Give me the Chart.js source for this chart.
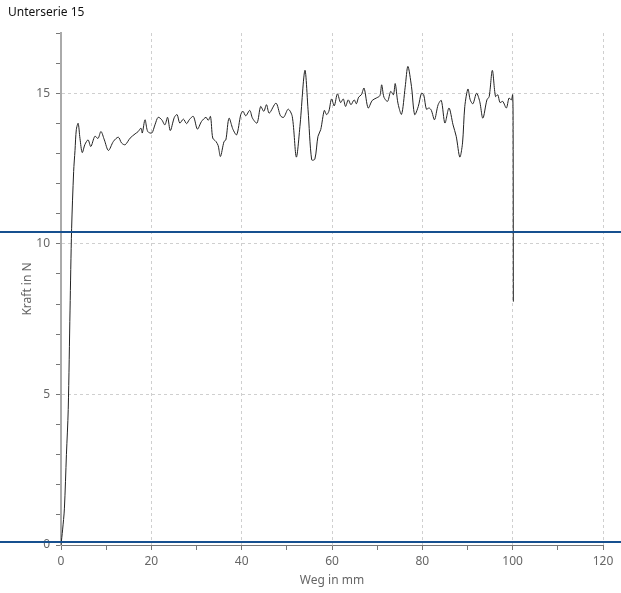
<!DOCTYPE html>
<html>
<head>
<meta charset="utf-8">
<script src="https://cdn.jsdelivr.net/npm/chart.js@4.4.1/dist/chart.umd.min.js"></script>
<style>
    body { margin: 0; background: #fff; }
    #wrap { width: 621px; height: 593px; }
</style>
</head>
<body>
<div id="wrap"><canvas id="kraftWegChart" width="621" height="593"></canvas></div>
<script>
const titel = "Unterserie 15";
const xTitel = "Weg in mm";
const yTitel = "Kraft in N";

// Weg (mm) und Kraft (N)
const weg = [
    0, 0.35, 0.75, 1.2, 1.6, 2.0, 2.35, 2.8, 3.1, 3.4, 3.8, 4.2, 4.7, 5.3, 6.0, 6.6, 7.5, 8.2, 8.85, 9.6, 10.5, 11.6,
    12.7, 13.4, 14.2, 15.3, 16.4, 17.1, 17.7, 18.0, 18.6, 19.2, 20.1, 20.8, 21.5, 22.3, 23.0, 23.6, 24.2, 25.1, 25.7, 26.3,
    27.1, 27.8, 28.4, 29.3, 30.2, 31.1, 32.1, 32.6, 33.1, 33.6, 34.3, 34.8, 35.3, 36.1, 36.5, 37.2, 38.1, 38.9, 39.8, 40.3,
    40.9, 41.8, 42.4, 43.4, 44.2, 44.9, 45.5, 46.1, 47.6, 48.6, 49.3, 50.3, 51.2, 52.1, 52.9, 54.0, 54.7, 55.5, 56.2, 56.9,
    57.5, 58.3, 58.8, 59.3, 59.9, 60.5, 61.2, 61.9, 62.5, 63.0, 63.6, 64.2, 64.9, 65.4, 65.9, 66.5, 67.1, 68.0, 68.9, 69.8,
    70.6, 71.0, 71.5, 72.3, 73.0, 73.6, 74.0, 74.6, 75.4, 76.2, 76.8, 77.6, 78.3, 79.1, 79.8, 80.3, 80.9, 81.5, 82.0, 82.7,
    83.5, 84.2, 85.0, 85.9, 86.8, 87.5, 88.3, 88.9, 89.4, 90.1, 90.6, 91.2, 92.0, 92.7, 93.4, 94.3, 94.8, 95.5, 96.2, 96.7,
    97.2, 97.8, 98.6, 99.2, 99.7, 100.0, 100.1, 100.15
];
const kraft = [
    0, 0.5, 1.2, 3.0, 4.5, 7.8, 10.5, 12.4, 13.1, 13.8, 14.0, 13.5, 13.03, 13.3, 13.45, 13.23, 13.57, 13.5, 13.73, 13.45, 13.1, 13.4,
    13.54, 13.35, 13.29, 13.51, 13.65, 13.73, 13.84, 13.68, 14.12, 13.73, 13.68, 13.95, 14.2, 14.12, 13.95, 14.2, 13.76, 14.2, 14.29, 14.01,
    14.14, 13.99, 14.12, 14.23, 13.81, 14.06, 14.2, 14.1, 14.23, 13.51, 13.4, 13.26, 12.9, 13.4, 13.45, 14.17, 13.79, 13.62, 14.29, 14.4,
    14.25, 14.43, 14.17, 14.01, 14.56, 14.4, 14.62, 14.34, 14.67, 14.25, 14.2, 14.47, 14.23, 12.88, 13.9, 15.76, 14.45, 12.79, 12.81, 13.57,
    13.79, 14.43, 14.29, 14.4, 14.81, 14.58, 14.98, 14.69, 14.81, 14.56, 14.78, 14.62, 14.78, 14.65, 14.87, 14.95, 15.17, 14.51, 14.76, 14.84,
    14.92, 15.28, 14.87, 14.73, 15.06, 14.95, 15.32, 14.67, 14.3, 15.2, 15.89, 15.22, 14.29, 14.56, 15.0, 14.95, 14.47, 14.51, 14.43, 14.12,
    14.62, 14.76, 14.01, 14.51, 13.95, 13.57, 12.88, 13.35, 14.56, 15.14, 14.78, 14.65, 15.0, 14.73, 14.17, 14.78, 14.89, 15.76, 14.89, 14.95,
    14.69, 14.73, 14.51, 14.84, 14.78, 14.95, 13.8, 8.08
];

// Grenzlinien (N)
const grenzen = [0.1, 10.4];

const xMin = 0, xMax = 120, xStep = 10, xLabelStep = 20;
const yMin = 0, yMax = 17, yStep = 1, yLabelStep = 5;

function drawKraftWegChart() {
    const font = "'Noto Sans', 'Open Sans', sans-serif";
    const gridColor = "#cfcfcf";
    const textColor = "#666";

    const punkte = weg.map((w, i) => ({ x: w, y: kraft[i] }));

    const grenzlinien = {
        id: "grenzlinien",
        afterDatasetsDraw(chart) {
            const ctx = chart.ctx;
            const yScale = chart.scales.y;
            ctx.save();
            ctx.strokeStyle = "#17508f";
            ctx.lineWidth = 2;
            grenzen.forEach(g => {
                const y = Math.round(yScale.getPixelForValue(g));
                ctx.beginPath();
                ctx.moveTo(0, y);
                ctx.lineTo(chart.width, y);
                ctx.stroke();
            });
            ctx.restore();
        }
    };

    const cnvs = document.getElementById("kraftWegChart").getContext("2d");
    new Chart(cnvs, {
        type: "line",
        data: {
            datasets: [
                {
                    label: titel,
                    data: punkte,
                    borderColor: "#222",
                    borderWidth: 1,
                    pointRadius: 0,
                    fill: false,
                    tension: 0.3
                }
            ]
        },
        options: {
            responsive: false,
            animation: false,
            layout: { padding: { left: 8, right: 18, top: 0, bottom: 0 } },
            plugins: {
                legend: { display: false },
                tooltip: { enabled: false },
                title: {
                    display: true,
                    text: titel,
                    align: "start",
                    color: "#111",
                    font: { family: font, size: 12, weight: "normal" },
                    padding: { top: 5, bottom: 13.6 }
                }
            },
            scales: {
                x: {
                    type: "linear",
                    min: xMin,
                    max: xMax,
                    afterFit: scale => { scale.height = 48; },
                    ticks: {
                        stepSize: xStep,
                        color: textColor,
                        font: { family: font, size: 12 },
                        padding: 4,
                        maxRotation: 0,
                        callback: v => (v % xLabelStep === 0 ? v : "")
                    },
                    grid: {
                        color: c => (c.tick && c.tick.value % xLabelStep === 0 && c.tick.value !== 0 ? gridColor : "transparent"),
                        tickColor: "#777",
                        tickLength: 5
                    },
                    border: { color: "#777", width: 1, dash: [3, 3] },
                    title: {
                        display: true,
                        text: xTitel,
                        color: textColor,
                        font: { family: font, size: 12 },
                        padding: { top: 0, bottom: 5 }
                    }
                },
                y: {
                    min: yMin,
                    max: yMax,
                    afterFit: scale => { scale.width = 53; },
                    ticks: {
                        stepSize: yStep,
                        color: textColor,
                        font: { family: font, size: 12 },
                        padding: 6,
                        callback: v => (v % yLabelStep === 0 ? v : "")
                    },
                    grid: {
                        color: c => (c.tick && c.tick.value % yLabelStep === 0 && c.tick.value !== 0 ? gridColor : "transparent"),
                        tickColor: "#777",
                        tickLength: 5
                    },
                    border: { color: "#aaa", width: 2, dash: [3, 3] },
                    title: {
                        display: true,
                        text: yTitel,
                        color: textColor,
                        font: { family: font, size: 12 },
                        padding: { top: 12, bottom: 0 }
                    }
                }
            }
        },
        plugins: [grenzlinien]
    });
}

drawKraftWegChart();
</script>
</body>
</html>
